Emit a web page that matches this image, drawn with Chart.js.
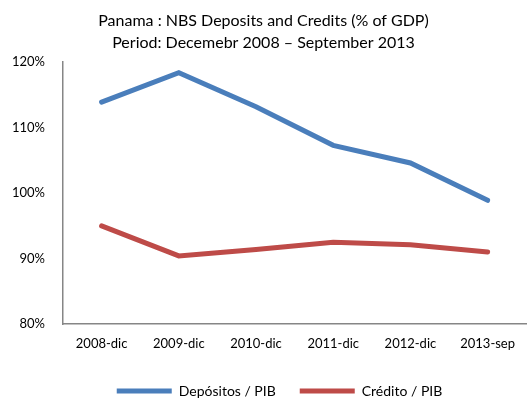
<!DOCTYPE html>
<html>
<head>
<meta charset="utf-8">
<script src="https://cdn.jsdelivr.net/npm/chart.js@4.4.0/dist/chart.umd.min.js"></script>
<style>
  html, body { margin: 0; padding: 0; background: #fff; }
  #wrap { width: 527px; height: 398px; }
</style>
</head>
<body>
<div id="wrap"><canvas id="chart"></canvas></div>
<script>
// Panama: depósitos y crédito del sistema bancario como % del PIB
const periods = ['2008-dic', '2009-dic', '2010-dic', '2011-dic', '2012-dic', '2013-sep'];
const depositos = [113.9, 118.4, 113.2, 107.3, 104.6, 98.9];
const credito = [95.0, 90.4, 91.4, 92.5, 92.1, 91.0];
const titleLines = ['Panama : NBS Deposits and Credits (% of GDP)', 'Period: Decemebr 2008 \u2013 September 2013'];

const FONT = 'Lato, "Open Sans", sans-serif';
const axisColor = '#868686';

// nudge the legend a bit to the right of the canvas centre
const legendShift = {
    id: 'legendShift',
    afterLayout(chart) {
        const lg = chart.legend;
        if (!lg) return;
        lg.left += 16;
        lg.right += 16;
    }
};

new Chart(document.getElementById('chart'), {
    type: 'line',
    data: {
        labels: periods,
        datasets: [
            {
                label: 'Depósitos / PIB',
                data: depositos,
                borderColor: '#4A7EBB',
                backgroundColor: '#4A7EBB',
                borderWidth: 5,
                pointRadius: 0,
                tension: 0,
                borderCapStyle: 'round'
            },
            {
                label: 'Crédito / PIB',
                data: credito,
                borderColor: '#BE4B48',
                backgroundColor: '#BE4B48',
                borderWidth: 5,
                pointRadius: 0,
                tension: 0,
                borderCapStyle: 'round'
            }
        ]
    },
    options: {
        responsive: true,
        maintainAspectRatio: false,
        animation: false,
        // negative bottom padding pulls the legend down near the edge
        layout: { padding: { left: 0, right: 0, top: 10, bottom: -10 } },
        plugins: {
            title: {
                display: true,
                text: titleLines,
                color: '#000',
                font: { family: FONT, size: 16, weight: 'normal', lineHeight: 1.35 },
                padding: { top: 0, bottom: 9 }
            },
            legend: {
                position: 'bottom',
                labels: {
                    color: '#000',
                    font: { family: FONT, size: 14 },
                    usePointStyle: true,
                    pointStyleWidth: 55,
                    pointStyle: 'line',
                    boxHeight: 13,
                    padding: 24
                }
            },
            tooltip: { enabled: false }
        },
        scales: {
            x: {
                offset: true,
                grid: {
                    display: false,
                    drawTicks: false
                },
                border: { display: true, color: axisColor, width: 1.5 },
                ticks: {
                    color: '#000',
                    font: { family: FONT, size: 13 },
                    padding: 12,
                    maxRotation: 0
                },
                afterFit: s => { s.height = 36; }
            },
            y: {
                min: 80,
                max: 120,
                grid: { display: false, drawTicks: false },
                border: { display: true, color: axisColor, width: 1.5 },
                ticks: {
                    stepSize: 10,
                    color: '#000',
                    font: { family: FONT, size: 13 },
                    padding: 18,
                    callback: v => v + '%'
                },
                afterFit: s => { s.width = 63; }
            }
        }
    },
    plugins: [legendShift]
});
</script>
</body>
</html>
